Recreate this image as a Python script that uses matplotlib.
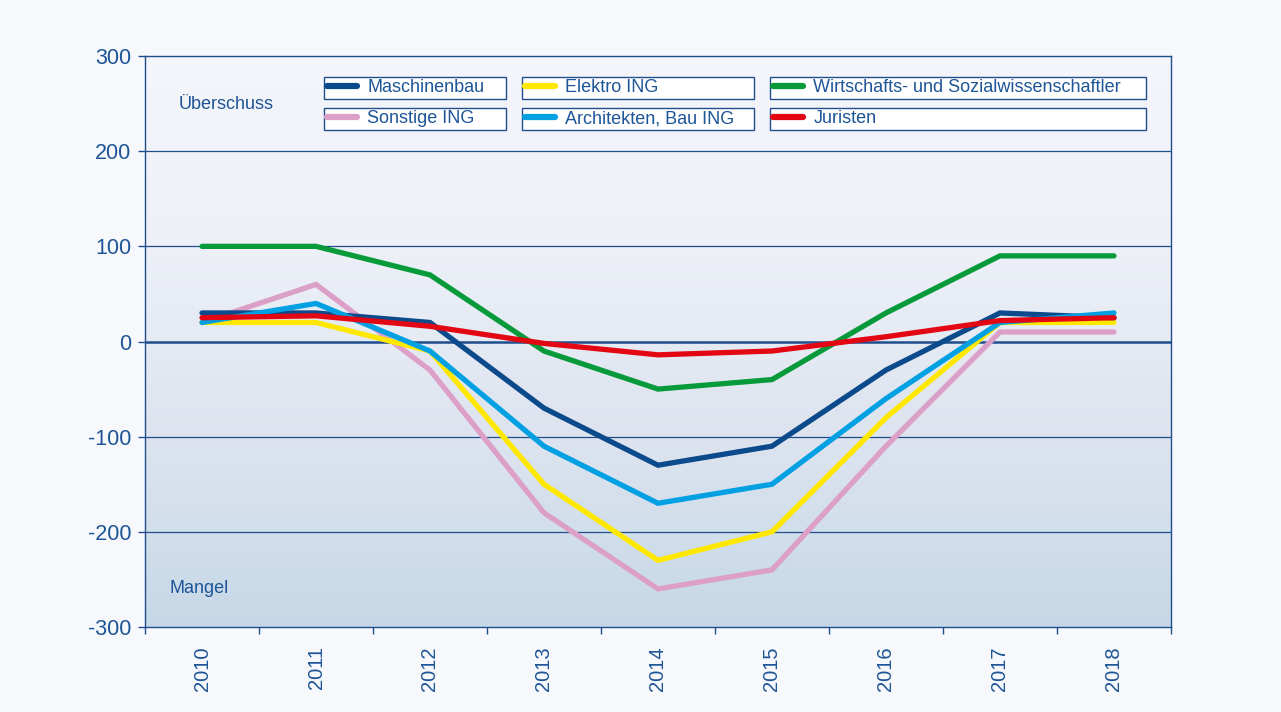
import numpy as np
import matplotlib
matplotlib.use("Agg")
from matplotlib import pyplot as plt
from matplotlib.colors import LinearSegmentedColormap
from matplotlib.lines import Line2D

years = ["2010", "2011", "2012", "2013", "2014", "2015", "2016", "2017", "2018"]

maschinenbau = [30, 30, 20, -70, -130, -110, -30, 30, 25]
elektro = [20, 20, -10, -150, -230, -200, -80, 20, 20]
wirtschaft = [100, 100, 70, -10, -50, -40, 30, 90, 90]
sonstige = [20, 60, -30, -180, -260, -240, -110, 10, 10]
architekten = [20, 40, -10, -110, -170, -150, -60, 20, 30]
juristen = [25, 27, 16, -2, -14, -10, 5, 22, 25]

y_ticks = [-300, -200, -100, 0, 100, 200, 300]

NAVY = "#1d5596"
LINE = "#1f4e8c"

# (label, values, colour, zorder)
series = [
    ("Maschinenbau", maschinenbau, "#0b4a8b", 4),
    ("Sonstige ING", sonstige, "#dca0c8", 2),
    ("Elektro ING", elektro, "#ffe800", 3),
    ("Architekten, Bau ING", architekten, "#00a0e3", 5),
    ("Wirtschafts- und Sozialwissenschaftler", wirtschaft, "#079a3a", 6),
    ("Juristen", juristen, "#e30613", 7),
]

plt.rcParams["axes.unicode_minus"] = False
plt.rcParams["font.family"] = ["Liberation Sans", "DejaVu Sans"]

fig = plt.figure(figsize=(12.81, 7.12), dpi=100, facecolor="#f7f8fc")
ax = fig.add_axes([0.1132, 0.1194, 0.8009, 0.8019])

# gradient background of the plot area
cmap = LinearSegmentedColormap.from_list(
    "bg", ["#f4f6fb", "#edf0f7", "#dde4ef", "#c6d8e7"])
grad = np.linspace(0, 1, 256).reshape(-1, 1)
ax.imshow(grad, cmap=cmap, aspect="auto", extent=(0, 1, 0, 1),
          transform=ax.transAxes, zorder=0)

x = np.arange(len(years))
for label, vals, color, z in series:
    ax.plot(x, vals, color=color, lw=3.8, solid_capstyle="round",
            solid_joinstyle="miter", zorder=z)

ax.set_xlim(-0.5, len(years) - 0.5)
ax.set_ylim(-300, 300)

for v in [-200, -100, 100, 200]:
    ax.axhline(v, color=LINE, lw=0.9, zorder=1)
ax.axhline(0, color=LINE, lw=1.8, zorder=1)

ax.set_yticks(y_ticks)
ax.set_yticklabels([str(v) for v in y_ticks])
ax.set_xticks(x)
ax.set_xticklabels(years, rotation=90)
ax.set_xticks(np.arange(len(years) + 1) - 0.5, minor=True)
ax.tick_params(axis="x", which="major", length=0, pad=14, labelsize=14.5,
               labelcolor=NAVY)
ax.tick_params(axis="x", which="minor", length=5, width=1, color=LINE,
               direction="out")
ax.tick_params(axis="y", length=5, width=1, color=LINE, pad=5,
               labelsize=15.5, labelcolor=NAVY)
for s in ax.spines.values():
    s.set_color(LINE)
    s.set_linewidth(1.0)

ax.text(0.033, 0.915, "Überschuss", transform=ax.transAxes, color=NAVY,
        fontsize=13, va="center")
ax.text(0.024, 0.068, "Mangel", transform=ax.transAxes, color=NAVY,
        fontsize=13, va="center")

# legend: each entry in its own box, laid out 3 columns x 2 rows
fig_w, fig_h = 1281, 712
boxes = {
    "Maschinenbau": (324, 75, 182),
    "Elektro ING": (522, 75, 232),
    "Wirtschafts- und Sozialwissenschaftler": (770, 75, 376),
    "Sonstige ING": (324, 106, 182),
    "Architekten, Bau ING": (522, 106, 232),
    "Juristen": (770, 106, 376),
}
legends = []
for label, vals, color, z in series:
    px, py, pw = boxes[label]
    bx = px / fig_w
    by = 1 - (py + 24) / fig_h
    handle = Line2D([], [], color=color, lw=4.5, solid_capstyle="round")
    leg = fig.legend([handle], [label], loc="lower left",
                     bbox_to_anchor=(bx, by, pw / fig_w, 24 / fig_h),
                     mode="expand", borderaxespad=0, borderpad=0.15,
                     handlelength=1.7, handletextpad=0.55,
                     fancybox=False, framealpha=1,
                     prop={"size": 13})
    leg.get_frame().set_edgecolor(LINE)
    leg.get_frame().set_linewidth(1.0)
    leg.get_texts()[0].set_color(NAVY)
    legends.append(leg)

fig.savefig("out.png", dpi=100, facecolor=fig.get_facecolor())
